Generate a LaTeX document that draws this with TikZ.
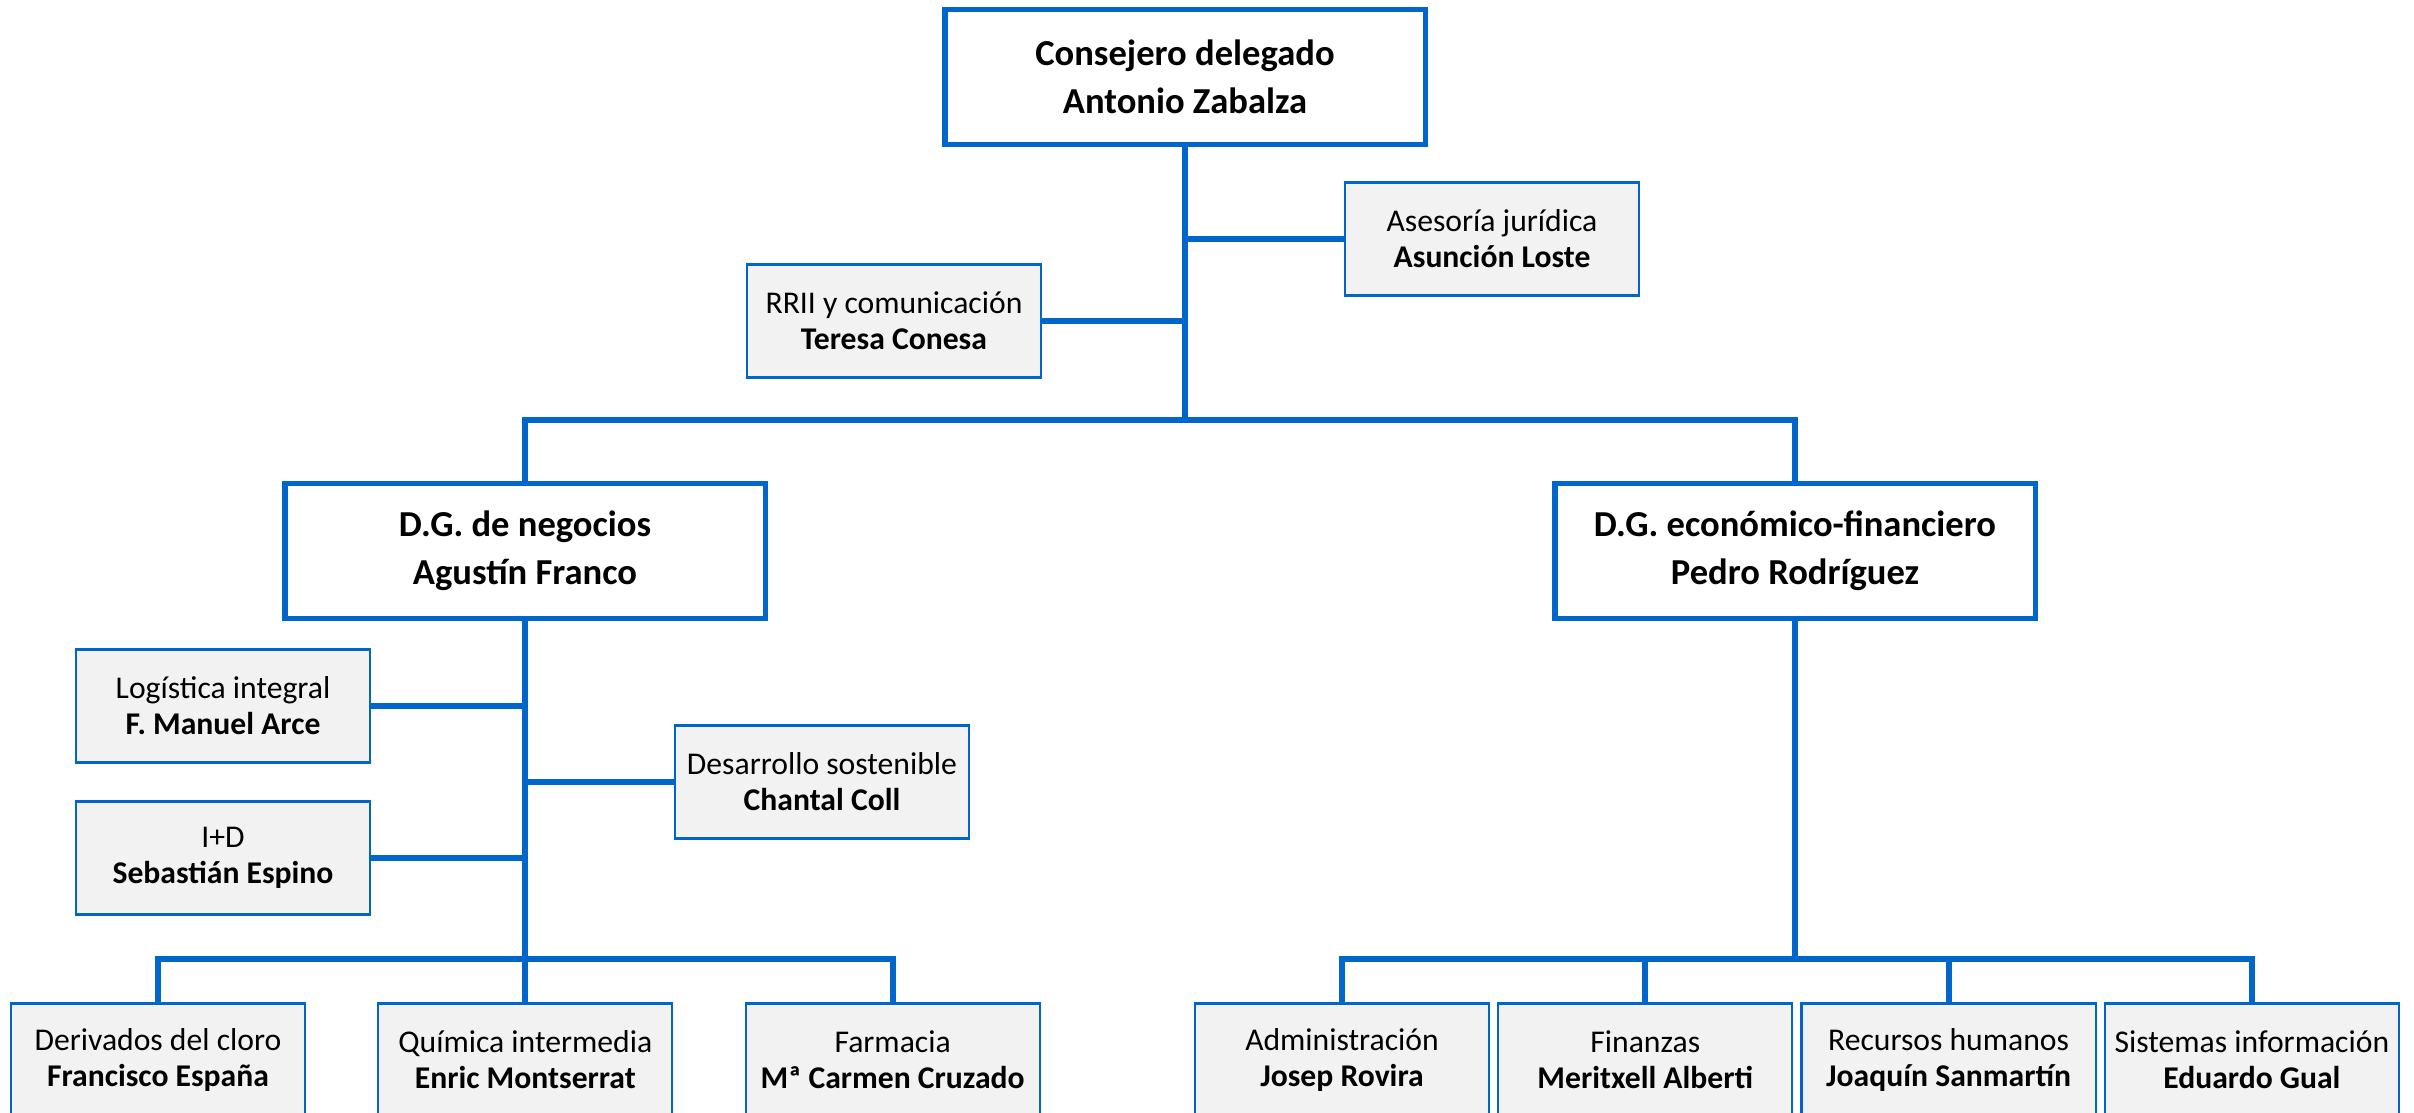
\documentclass[tikz,border=0pt]{standalone}
\usepackage{fontspec}
\setmainfont{Carlito}
\usetikzlibrary{positioning}
\definecolor{orgblue}{HTML}{0066CC}
\definecolor{boxgray}{HTML}{F2F2F2}
\tikzset{head/.style={draw=orgblue,line width=1.5pt,fill=white,minimum width=4.8cm,minimum height=1.35cm,align=center,font=\fontsize{10.4}{13.7}\selectfont\bfseries}}
\tikzset{unit/.style={draw=orgblue,line width=0.6pt,fill=boxgray,minimum width=2.94cm,minimum height=1.13cm,align=center,inner sep=1pt,font=\fontsize{9}{10.3}\selectfont}}
\tikzset{link/.style={draw=orgblue,line width=1.7pt}}

\begin{document}
\begin{tikzpicture}[x=0.01cm,y=-0.01cm]
    \useasboundingbox[fill=white] (0,0) rectangle (2414,1113);

    \node[head] (ceo) at (1185,77) {Consejero delegado\\Antonio Zabalza};
    \node[head] (dgn) at (525,551) {D.G. de negocios\\Agustín Franco};
    \node[head] (dge) at (1795,551) {D.G. económico-financiero\\Pedro Rodríguez};

    \node[unit] (jur) at (1492,239) {Asesoría jurídica\\\textbf{Asunción Loste}};
    \node[unit] (rrii) at (894,321) {RRII y comunicación\\\textbf{Teresa Conesa}};

    \node[unit] (log) at (223,706) {Logística integral\\\textbf{F. Manuel Arce}};
    \node[unit] (imasd) at (223,858) {I+D\\\textbf{Sebastián Espino}};
    \node[unit] (sost) at (822,782) {Desarrollo sostenible\\\textbf{Chantal Coll}};

    \node[unit] (der) at (158,1060) {Derivados del cloro\\\textbf{Francisco España}};
    \node[unit,right=0.71cm of der] (qui) {Química intermedia\\\textbf{Enric Montserrat}};
    \node[unit,right=0.71cm of qui] (far) {Farmacia\\\textbf{Mª Carmen Cruzado}};

    \node[unit] (adm) at (1342,1060) {Administración\\\textbf{Josep Rovira}};
    \node[unit,right=0.07cm of adm] (fin) {Finanzas\\\textbf{Meritxell Alberti}};
    \node[unit,right=0.07cm of fin] (rec) {Recursos humanos\\\textbf{Joaquín Sanmartín}};
    \node[unit,right=0.07cm of rec] (sis) {Sistemas información\\\textbf{Eduardo Gual}};

    \coordinate (topbus) at (1185,420);
    \coordinate (negbus) at (525,959);
    \coordinate (ecobus) at (1795,959);

        % consejero delegado
        \draw[link] (ceo.south) -- (topbus);
        \draw[link] (dgn.north) |- (topbus) -| (dge.north);
        \draw[link] (jur.west) -- (jur.west -| ceo.south);
        \draw[link] (rrii.east) -- (rrii.east -| ceo.south);
        % negocios
        \draw[link] (dgn.south) -- (negbus);
        \draw[link] (log.east) -- (log.east -| dgn.south);
        \draw[link] (imasd.east) -- (imasd.east -| dgn.south);
        \draw[link] (sost.west) -- (sost.west -| dgn.south);
        \draw[link] (der.north) |- (negbus) -| (far.north);
        \draw[link] (qui.north) -- (qui.north |- negbus);
        % economico-financiero
        \draw[link] (dge.south) -- (ecobus);
        \draw[link] (adm.north) |- (ecobus) -| (sis.north);
        \draw[link] (fin.north) -- (fin.north |- ecobus);
        \draw[link] (rec.north) -- (rec.north |- ecobus);
\end{tikzpicture}
\end{document}
